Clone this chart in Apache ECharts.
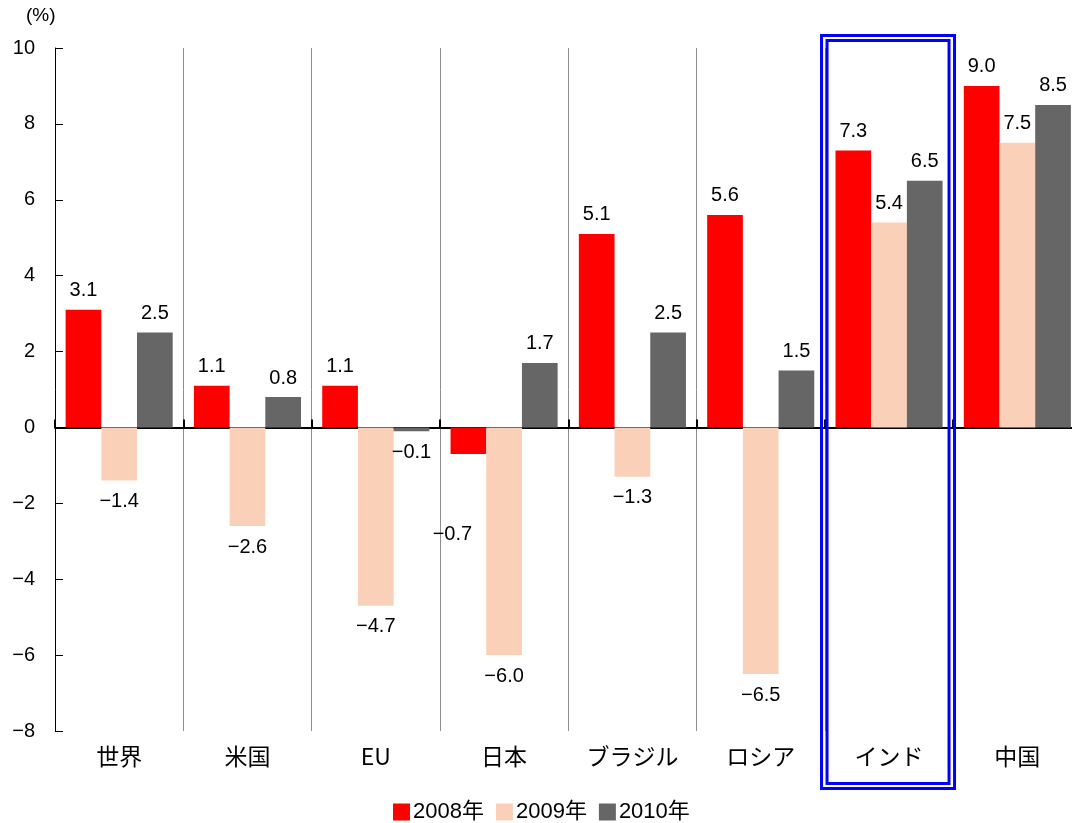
<!DOCTYPE html>
<html>
<head>
<meta charset="utf-8">
<script src="https://cdn.jsdelivr.net/npm/echarts@6/dist/echarts.min.js"></script>
<style>
  html, body { margin: 0; padding: 0; background: #fff; }
  #chart { width: 1072px; height: 823px; }
</style>
</head>
<body>
<div id="chart"></div>
<script>
// Real GDP growth by region, 2008–2010 (%)
const categories = ['世界', '米国', 'EU', '日本', 'ブラジル', 'ロシア', 'インド', '中国'];
const seriesNames = ['2008年', '2009年', '2010年'];
const values2008 = [3.1, 1.1, 1.1, -0.7, 5.1, 5.6, 7.3, 9.0];
const values2009 = [-1.4, -2.6, -4.7, -6.0, -1.3, -6.5, 5.4, 7.5];
const values2010 = [2.5, 0.8, -0.1, 1.7, 2.5, 1.5, 6.5, 8.5];
const highlightCategory = 'インド';

const colors = ['#ff0000', '#fbd0b9', '#666666'];
const FONT = '"Liberation Sans", Arial, "Noto Sans CJK JP", sans-serif';
const CJK_FONT = '"Noto Sans CJK JP", sans-serif';

const fmt = v => (v < 0 ? '\u2212' : '') + Math.abs(v).toFixed(1);

// Per-label tweaks (the 日本 2008 label sits clear of the neighbouring bar)
const labelTweaks = { '0-3': { offset: [-16, 59] } };

function buildData(values, si) {
  return values.map((v, i) => {
    const lbl = { position: v < 0 ? 'bottom' : 'top', distance: v < 0 ? 11 : 9 };
    Object.assign(lbl, labelTweaks[si + '-' + i] || {});
    return { value: v, label: lbl };
  });
}

const chart = echarts.init(document.getElementById('chart'), null, { renderer: 'canvas' });

const option = {
  animation: false,
  backgroundColor: '#fff',
  color: colors,
  // the last category runs slightly past the right edge of the canvas
  grid: { left: 55, top: 48, width: 1026.5, height: 683, containLabel: false, outerBoundsMode: 'none' },
  legend: {
    data: seriesNames,
    left: 388,
    top: 796,
    icon: 'rect',
    itemWidth: 17,
    itemHeight: 17,
    itemGap: 12,
    textStyle: { fontSize: 22, color: '#000', fontFamily: FONT, padding: [0, 0, 0, -2] }
  },
  xAxis: [
    {
      type: 'category',
      data: categories,
      position: 'bottom',
      axisLine: { show: false, onZero: false },
      axisTick: { show: false },
      axisLabel: { margin: 14, fontSize: 23, color: '#000', fontFamily: CJK_FONT },
      splitLine: { show: true, lineStyle: { color: '#8c8c8c', width: 1 } }
    },
    {
      type: 'category',
      data: categories,
      position: 'top',
      axisLine: { show: true, onZero: true, lineStyle: { color: '#000', width: 2 } },
      axisTick: { show: true, inside: false, length: 8, lineStyle: { color: '#000', width: 2 } },
      axisLabel: { show: false },
      splitLine: { show: false }
    }
  ],
  yAxis: {
    type: 'value',
    min: -8,
    max: 10,
    interval: 2,
    axisLine: { show: true, lineStyle: { color: '#000', width: 1 } },
    axisTick: { show: true, inside: true, length: 8, lineStyle: { color: '#000' } },
    axisLabel: {
      margin: 20,
      fontSize: 20,
      color: '#000',
      fontFamily: FONT,
      formatter: v => (v < 0 ? '\u2212' + Math.abs(v) : String(v))
    },
    splitLine: { show: false }
  },
  graphic: [
    {
      type: 'text',
      left: 26,
      top: 6,
      style: { text: '(%)', font: '19px ' + FONT, fill: '#000' }
    }
  ],
  series: [values2008, values2009, values2010].map((vals, si) => ({
    name: seriesNames[si],
    type: 'bar',
    xAxisIndex: 0,
    barWidth: 35.7,
    barGap: '0%',
    data: buildData(vals, si),
    label: {
      show: true,
      fontSize: 20,
      color: '#000',
      fontFamily: FONT,
      formatter: p => fmt(p.value)
    }
  }))
};

chart.setOption(option);

// Double blue frame around the highlighted category
const cx = chart.convertToPixel({ xAxisIndex: 0 }, highlightCategory);
chart.setOption({
  graphic: [
    option.graphic[0],
    {
      type: 'rect',
      shape: { x: cx - 67.5, y: 35.5, width: 133, height: 753 },
      style: { fill: 'none', stroke: '#0000ff', lineWidth: 3 },
      z: 10
    },
    {
      type: 'rect',
      shape: { x: cx - 62, y: 40.5, width: 122, height: 743 },
      style: { fill: 'none', stroke: '#0000ff', lineWidth: 3 },
      z: 10
    }
  ]
});
</script>
</body>
</html>
